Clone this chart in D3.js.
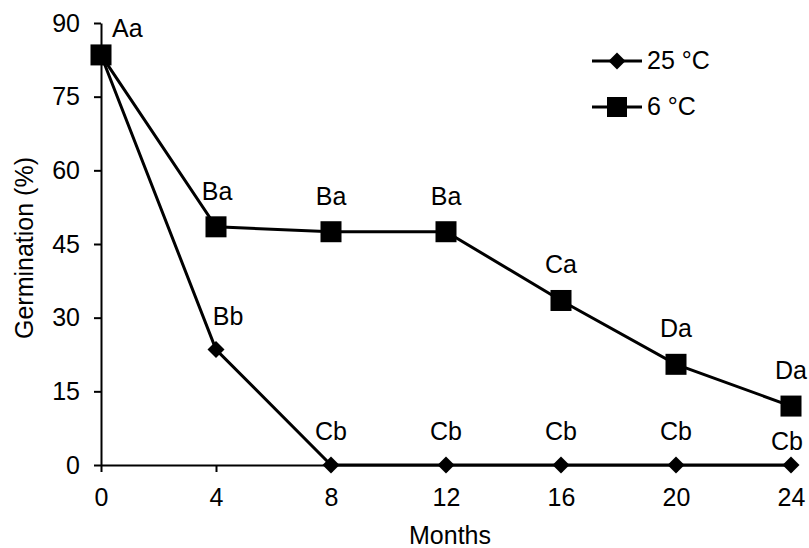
<!DOCTYPE html>
<html>
<head>
<meta charset="utf-8">
<script src="https://cdn.jsdelivr.net/npm/d3@7"></script>
<style>
  body { margin: 0; background: #fff; }
  text { font-family: "Liberation Sans", Arial, sans-serif; fill: #000; }
</style>
</head>
<body>
<svg id="chart" width="809" height="548"></svg>
<script>
// Germination (%) over storage time at two temperatures
const months = [0, 4, 8, 12, 16, 20, 24];
const germ25 = [83.5, 23.5, 0, 0, 0, 0, 0];
const germ6 = [83.5, 48.5, 47.5, 47.5, 33.5, 20.5, 12];
const letters25 = ["", "Bb", "Cb", "Cb", "Cb", "Cb", "Cb"];
const letters6 = ["Aa", "Ba", "Ba", "Ba", "Ca", "Da", "Da"];
const yTicks = [0, 15, 30, 45, 60, 75, 90];
const xTicks = [0, 4, 8, 12, 16, 20, 24];

const FS = 25;
const svg = d3.select("#chart");
const x = d3.scaleLinear().domain([0, 24]).range([101, 791]);
const y = d3.scaleLinear().domain([0, 90]).range([465, 23]);

// axes
const yAxis = svg.append("g").attr("transform", "translate(101,0)")
  .call(d3.axisLeft(y).tickValues(yTicks).tickSize(7).tickSizeOuter(0).tickPadding(14));
const xAxis = svg.append("g").attr("transform", "translate(0,465)")
  .call(d3.axisBottom(x).tickValues(xTicks).tickSize(7).tickSizeOuter(0).tickPadding(16));
[yAxis, xAxis].forEach(g => {
  g.select(".domain").attr("stroke", "#000").attr("stroke-width", 2);
  g.selectAll(".tick line").attr("stroke", "#000").attr("stroke-width", 2);
  g.selectAll(".tick text").attr("font-size", FS)
    .style("font-family", "Liberation Sans, Arial, sans-serif").attr("fill", "#000");
});

svg.append("text").attr("x", 450).attr("y", 544).attr("text-anchor", "middle")
  .attr("font-size", FS).text("Months");
svg.append("text").attr("transform", "translate(33,248) rotate(-90)")
  .attr("text-anchor", "middle").attr("font-size", FS).text("Germination (%)");

const line = d3.line().x(d => x(d[0])).y(d => y(d[1]));
const pts25 = months.map((m, i) => [m, germ25[i]]);
const pts6 = months.map((m, i) => [m, germ6[i]]);

svg.append("path").datum(pts25).attr("d", line)
  .attr("fill", "none").attr("stroke", "#000").attr("stroke-width", 3);
svg.append("path").datum(pts6).attr("d", line)
  .attr("fill", "none").attr("stroke", "#000").attr("stroke-width", 3);

const diamond = d3.symbol().type(d3.symbolSquare).size(144);
svg.selectAll(".m25").data(pts25).enter().append("path")
  .attr("d", diamond)
  .attr("transform", d => `translate(${x(d[0])},${y(d[1])}) rotate(45)`)
  .attr("fill", "#000");

const sq = 21;
svg.selectAll(".m6").data(pts6).enter().append("rect")
  .attr("x", d => x(d[0]) - sq / 2).attr("y", d => y(d[1]) - sq / 2)
  .attr("width", sq).attr("height", sq).attr("fill", "#000");

// significance letters
svg.selectAll(".l6").data(pts6).enter().append("text")
  .attr("x", (d, i) => i === 0 ? x(d[0]) + 11 : x(d[0]) + (i === 1 ? 1 : 0))
  .attr("y", (d, i) => i === 0 ? 37 : y(d[1]) - 27)
  .attr("text-anchor", (d, i) => i === 0 ? "start" : "middle").attr("font-size", FS)
  .text((d, i) => letters6[i]);
svg.selectAll(".l25").data(pts25).enter().append("text")
  .attr("x", (d, i) => i === 1 ? x(d[0]) + 12 : x(d[0]) - (i === 6 ? 4 : 0))
  .attr("y", (d, i) => y(d[1]) - (i === 6 ? 15 : 25))
  .attr("text-anchor", "middle").attr("font-size", FS)
  .text((d, i) => letters25[i]);

// legend
const legend = [
  { label: "25 °C", y: 61, type: "diamond" },
  { label: "6 °C", y: 107, type: "square" }
];
legend.forEach(l => {
  svg.append("line").attr("x1", 592).attr("x2", 642).attr("y1", l.y).attr("y2", l.y)
    .attr("stroke", "#000").attr("stroke-width", 3);
  if (l.type === "diamond") {
    svg.append("path").attr("d", diamond)
      .attr("transform", `translate(617,${l.y}) rotate(45)`).attr("fill", "#000");
  } else {
    svg.append("rect").attr("x", 617 - 10).attr("y", l.y - 10)
      .attr("width", 20).attr("height", 20).attr("fill", "#000");
  }
  svg.append("text").attr("x", 647).attr("y", l.y + 8).attr("font-size", FS).text(l.label);
});
</script>
</body>
</html>
